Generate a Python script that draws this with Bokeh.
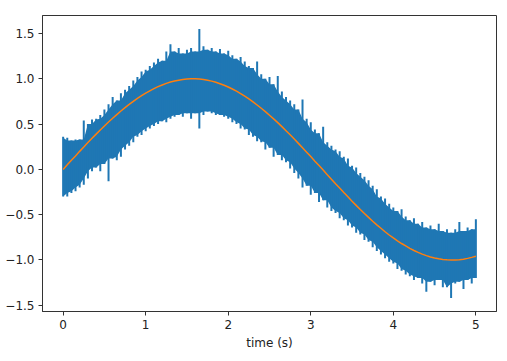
from bokeh.plotting import figure
from bokeh.models import Range1d, FixedTicker, CustomJSTickFormatter
from bokeh.embed import file_html
from bokeh.resources import INLINE

# time samples (s)
time_s = [round(i * 0.05, 2) for i in range(101)]

# smooth signal
clean = [0.000, 0.050, 0.100, 0.149, 0.199, 0.247, 0.296, 0.343, 0.389, 0.435,
         0.479, 0.523, 0.565, 0.605, 0.644, 0.682, 0.717, 0.751, 0.783, 0.813,
         0.841, 0.867, 0.891, 0.913, 0.932, 0.949, 0.964, 0.976, 0.985, 0.993,
         0.997, 1.000, 1.000, 0.997, 0.992, 0.984, 0.974, 0.961, 0.946, 0.929,
         0.909, 0.887, 0.863, 0.837, 0.808, 0.778, 0.746, 0.711, 0.675, 0.638,
         0.598, 0.558, 0.516, 0.472, 0.427, 0.382, 0.335, 0.287, 0.239, 0.190,
         0.141, 0.091, 0.042, -0.008, -0.058, -0.108, -0.158, -0.206, -0.256, -0.303,
         -0.351, -0.397, -0.443, -0.487, -0.530, -0.572, -0.612, -0.650, -0.688, -0.724,
         -0.757, -0.788, -0.818, -0.845, -0.872, -0.895, -0.916, -0.935, -0.952, -0.966,
         -0.978, -0.987, -0.994, -0.998, -1.000, -0.999, -0.996, -0.991, -0.982, -0.971,
         -0.959]

# upper / lower envelope of the noisy signal (blue band)
noisy_high = [0.36, 0.35, 0.32, 0.33, 0.33, 0.54, 0.50, 0.55, 0.56, 0.60,
              0.66, 0.72, 0.80, 0.76, 0.84, 0.88, 0.92, 0.98, 1.02, 1.08,
              1.10, 1.14, 1.18, 1.22, 1.20, 1.30, 1.38, 1.30, 1.34, 1.28,
              1.32, 1.34, 1.30, 1.55, 1.36, 1.32, 1.34, 1.30, 1.33, 1.28,
              1.31, 1.26, 1.22, 1.24, 1.19, 1.14, 1.12, 1.19, 1.05, 1.00,
              1.02, 0.94, 1.03, 0.86, 0.80, 0.76, 0.72, 0.66, 0.77, 0.56,
              0.52, 0.44, 0.40, 0.47, 0.30, 0.26, 0.22, 0.20, 0.14, 0.12,
              0.04, 0.02, -0.04, -0.08, -0.12, -0.18, -0.22, -0.30, -0.32, -0.38,
              -0.42, -0.46, -0.44, -0.52, -0.56, -0.54, -0.60, -0.58, -0.64, -0.62,
              -0.66, -0.60, -0.68, -0.66, -0.70, -0.66, -0.58, -0.68, -0.64, -0.66,
              -0.55]
noisy_low = [-0.30, -0.30, -0.26, -0.24, -0.20, -0.17, -0.10, -0.02, 0.02, -0.02,
             0.06, -0.13, 0.12, 0.10, 0.14, 0.22, 0.26, 0.30, 0.36, 0.38,
             0.42, 0.45, 0.48, 0.50, 0.53, 0.52, 0.56, 0.58, 0.60, 0.58,
             0.62, 0.56, 0.62, 0.45, 0.60, 0.64, 0.62, 0.60, 0.60, 0.58,
             0.56, 0.52, 0.50, 0.45, 0.44, 0.38, 0.36, 0.31, 0.30, 0.22,
             0.24, 0.14, 0.16, 0.10, 0.08, 0.01, -0.04, -0.10, -0.20, -0.18,
             -0.28, -0.26, -0.36, -0.34, -0.42, -0.46, -0.48, -0.54, -0.56, -0.62,
             -0.64, -0.70, -0.72, -0.78, -0.80, -0.86, -0.90, -0.94, -0.98, -1.02,
             -1.04, -1.10, -1.12, -1.16, -1.18, -1.22, -1.20, -1.26, -1.35, -1.24,
             -1.28, -1.22, -1.30, -1.30, -1.42, -1.26, -1.24, -1.32, -1.22, -1.26,
             -1.20]

x_ticks = [0, 1, 2, 3, 4, 5]
y_ticks = [-1.5, -1.0, -0.5, 0.0, 0.5, 1.0, 1.5]

# inner body of the band: the lower of neighbouring peaks, so each sample's
# own extreme shows as a thin spike above it
n = len(time_s)
body_high = [min(noisy_high[max(i - 1, 0):i + 2]) for i in range(n)]
body_low = [max(noisy_low[max(i - 1, 0):i + 2]) for i in range(n)]

p = figure(width=499, height=353, output_backend="svg", toolbar_location=None,
           x_range=Range1d(-0.25, 5.25), y_range=Range1d(-1.5685, 1.6985),
           min_border_left=42, min_border_right=3, min_border_top=15, min_border_bottom=42)

p.varea(x=time_s, y1=body_low, y2=body_high, fill_color="#1f77b4", fill_alpha=1.0)
p.segment(x0=time_s, y0=noisy_low, x1=time_s, y1=noisy_high,
          line_color="#1f77b4", line_width=2)
p.line(time_s, clean, line_color="#ff7f0e", line_width=1.5)

p.xgrid.visible = False
p.ygrid.visible = False
p.outline_line_color = "#333333"
p.outline_line_width = 1
p.background_fill_color = "white"

p.xaxis.ticker = FixedTicker(ticks=x_ticks)
p.yaxis.ticker = FixedTicker(ticks=y_ticks)
p.yaxis.formatter = CustomJSTickFormatter(
    code="return (tick < 0 ? '\u2212' : '') + Math.abs(tick).toFixed(1);")
p.xaxis.axis_label = "time (s)"

for ax in (p.xaxis[0], p.yaxis[0]):
    ax.axis_line_color = "#333333"
    ax.major_tick_line_color = "#333333"
    ax.major_tick_out = 4
    ax.major_tick_in = 0
    ax.minor_tick_line_color = None
    ax.major_label_text_font = "DejaVu Sans"
    ax.major_label_text_font_size = "12px"
    ax.major_label_text_color = "#222222"
    ax.major_label_standoff = 4
    ax.axis_label_text_font = "DejaVu Sans"
    ax.axis_label_text_font_size = "12px"
    ax.axis_label_text_font_style = "normal"
    ax.axis_label_text_color = "#222222"
    ax.axis_label_standoff = 4

open("out.html", "w").write(file_html(p, INLINE))
